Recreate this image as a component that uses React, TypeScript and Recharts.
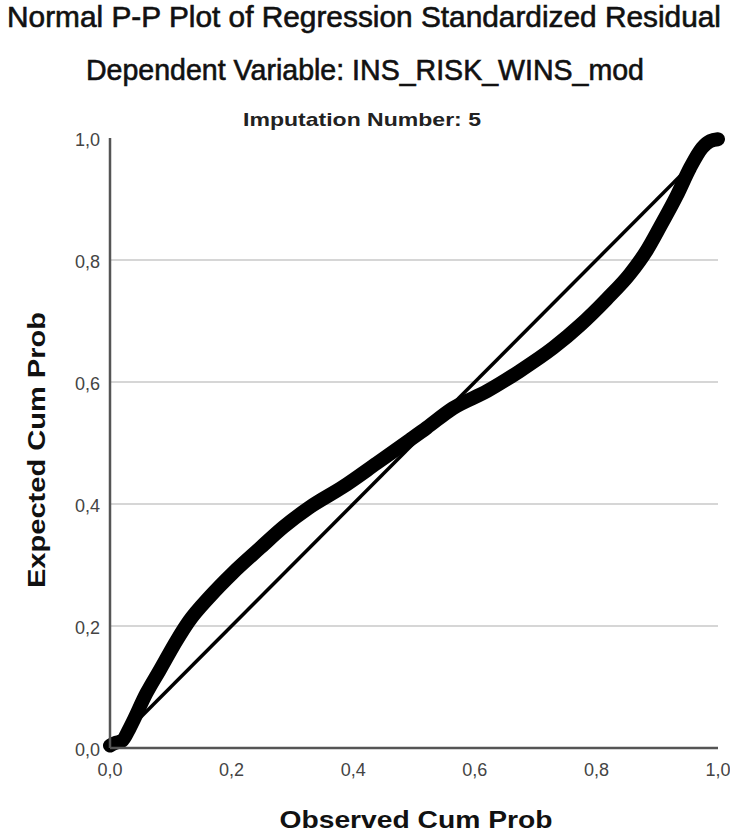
import { LineChart, Line, XAxis, YAxis, ReferenceLine } from "recharts"

// observed cum prob vs expected cum prob
const observed = [
  0, 0.008, 0.02, 0.033, 0.06, 0.082, 0.11, 0.13, 0.164, 0.202, 0.247, 0.285, 0.329,
  0.383, 0.439, 0.493, 0.521, 0.564, 0.62, 0.674, 0.729, 0.773, 0.817, 0.855, 0.883,
  0.905, 0.932, 0.954, 0.974, 0.987, 1,
]
const expected = [
  0.004, 0.008, 0.012, 0.034, 0.09, 0.128, 0.177, 0.208, 0.248, 0.287, 0.328, 0.362, 0.395,
  0.428, 0.467, 0.505, 0.525, 0.557, 0.585, 0.618, 0.656, 0.693, 0.736, 0.777, 0.816,
  0.855, 0.905, 0.951, 0.984, 0.995, 0.998,
]
const diagonalX = [0, 1]
const diagonalY = [0, 1]
const ticks = [0, 0.2, 0.4, 0.6, 0.8, 1]
const gridValues = [0.2, 0.4, 0.6, 0.8]

const titleMain = "Normal P-P Plot of Regression Standardized Residual"
const titleDep = "Dependent Variable: INS_RISK_WINS_mod"
const titleImp = "Imputation Number: 5"
const xLabel = "Observed Cum Prob"
const yLabel = "Expected Cum Prob"

const points = observed.map((x, i) => ({ x, y: expected[i] }))
const diagonal = diagonalX.map((x, i) => ({ x, y: diagonalY[i] }))

const font = "'Liberation Sans', Arial, sans-serif"
const fmt = (v: number) => v.toFixed(1).replace(".", ",")

function XTick({ x, y, payload }: any) {
  return (
    <text x={x} y={y + 20} textAnchor="middle" fontSize={18} fill="#444" fontFamily={font}>
      {fmt(payload.value)}
    </text>
  )
}

function YTick({ x, y, payload }: any) {
  return (
    <text x={x - 2} y={y + 8} textAnchor="end" fontSize={18} fill="#444" fontFamily={font}>
      {fmt(payload.value)}
    </text>
  )
}

export default function App() {
  return (
    <div style={{ position: "absolute", left: 0, top: 0, width: 730, height: 836, background: "#fff" }}>
      <LineChart width={730} height={836} margin={{ top: 138, right: 12, bottom: 48, left: 50 }}>
        <XAxis
          type="number"
          dataKey="x"
          domain={[0, 1]}
          ticks={ticks}
          tick={<XTick />}
          tickLine={false}
          axisLine={{ stroke: "#555", strokeWidth: 2.5 }}
          height={40}
        />
        <YAxis
          type="number"
          dataKey="y"
          domain={[0, 1]}
          ticks={ticks}
          tick={<YTick />}
          tickLine={false}
          axisLine={{ stroke: "#555", strokeWidth: 2.5 }}
          width={60}
        />
        {gridValues.map((v) => (
          <ReferenceLine key={v} y={v} stroke="#c8c8c8" strokeWidth={1.5} />
        ))}
        <Line
          data={points}
          dataKey="y"
          type="monotone"
          stroke="#000"
          strokeWidth={14}
          strokeLinecap="round"
          strokeLinejoin="round"
          dot={false}
          isAnimationActive={false}
        />
        <Line
          data={diagonal}
          dataKey="y"
          type="linear"
          stroke="#000"
          strokeWidth={3.5}
          dot={false}
          isAnimationActive={false}
        />
      </LineChart>
      <svg
        width={730}
        height={836}
        style={{ position: "absolute", left: 0, top: 0, pointerEvents: "none" }}
        fontFamily={font}
      >
        <text x={364} y={27} textAnchor="middle" fontSize={29} fill="#111" stroke="#111" strokeWidth={0.6} textLength={714} lengthAdjust="spacingAndGlyphs">
          {titleMain}
        </text>
        <text x={365} y={80} textAnchor="middle" fontSize={29} fill="#111" stroke="#111" strokeWidth={0.6} textLength={558} lengthAdjust="spacingAndGlyphs">
          {titleDep}
        </text>
        <text x={362} y={126} textAnchor="middle" fontSize={19} fontWeight="bold" fill="#222" textLength={238} lengthAdjust="spacingAndGlyphs">
          {titleImp}
        </text>
        <text x={416} y={828} textAnchor="middle" fontSize={24} fontWeight="bold" fill="#111" textLength={273} lengthAdjust="spacingAndGlyphs">
          {xLabel}
        </text>
        <text
          x={0}
          y={0}
          transform="translate(45,450) rotate(-90)"
          textAnchor="middle"
          fontSize={24}
          fontWeight="bold"
          fill="#111"
          textLength={276}
          lengthAdjust="spacingAndGlyphs"
        >
          {yLabel}
        </text>
      </svg>
    </div>
  )
}
